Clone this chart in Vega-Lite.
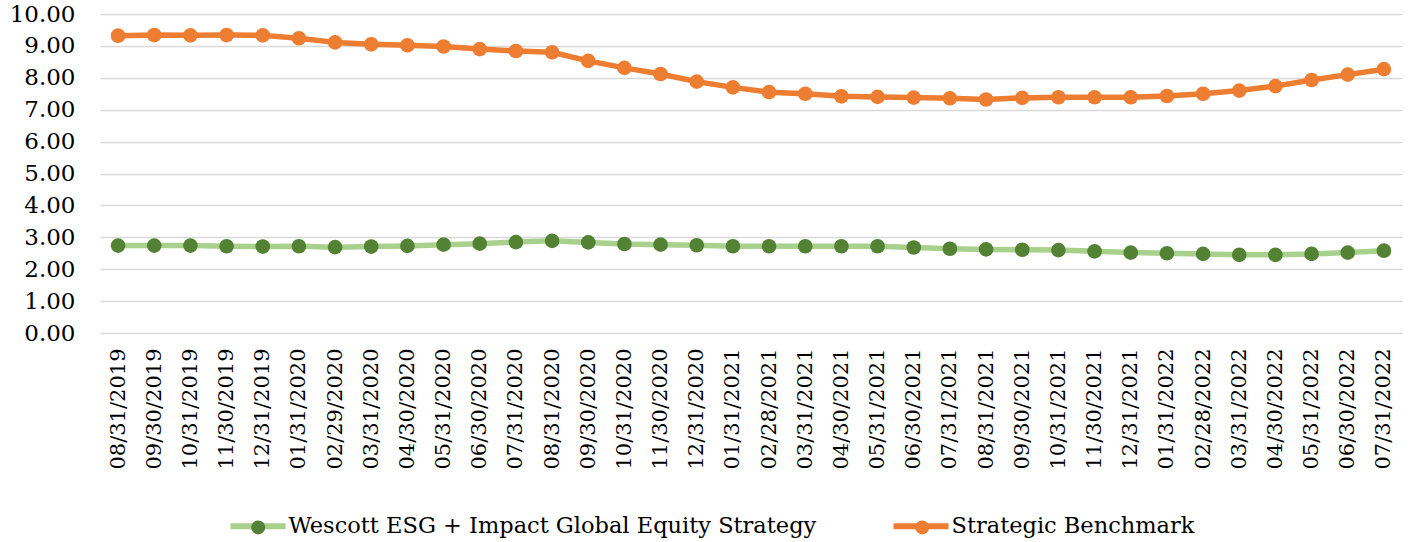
{
  "$schema": "https://vega.github.io/schema/vega-lite/v6.json",
  "width": 1302,
  "height": 319,
  "autosize": "none",
  "padding": {"left": 100, "top": 14, "right": 9, "bottom": 209},
  "background": "#ffffff",
  "config": {"view": {"stroke": null}, "font": "DejaVu Serif"},
  "data": {
    "values": [
      {"date": "08/31/2019", "series": "Wescott ESG + Impact Global Equity Strategy", "value": 2.74},
      {"date": "09/30/2019", "series": "Wescott ESG + Impact Global Equity Strategy", "value": 2.74},
      {"date": "10/31/2019", "series": "Wescott ESG + Impact Global Equity Strategy", "value": 2.74},
      {"date": "11/30/2019", "series": "Wescott ESG + Impact Global Equity Strategy", "value": 2.72},
      {"date": "12/31/2019", "series": "Wescott ESG + Impact Global Equity Strategy", "value": 2.71},
      {"date": "01/31/2020", "series": "Wescott ESG + Impact Global Equity Strategy", "value": 2.72},
      {"date": "02/29/2020", "series": "Wescott ESG + Impact Global Equity Strategy", "value": 2.69},
      {"date": "03/31/2020", "series": "Wescott ESG + Impact Global Equity Strategy", "value": 2.71},
      {"date": "04/30/2020", "series": "Wescott ESG + Impact Global Equity Strategy", "value": 2.73},
      {"date": "05/31/2020", "series": "Wescott ESG + Impact Global Equity Strategy", "value": 2.77},
      {"date": "06/30/2020", "series": "Wescott ESG + Impact Global Equity Strategy", "value": 2.80},
      {"date": "07/31/2020", "series": "Wescott ESG + Impact Global Equity Strategy", "value": 2.85},
      {"date": "08/31/2020", "series": "Wescott ESG + Impact Global Equity Strategy", "value": 2.89},
      {"date": "09/30/2020", "series": "Wescott ESG + Impact Global Equity Strategy", "value": 2.84},
      {"date": "10/31/2020", "series": "Wescott ESG + Impact Global Equity Strategy", "value": 2.79},
      {"date": "11/30/2020", "series": "Wescott ESG + Impact Global Equity Strategy", "value": 2.77},
      {"date": "12/31/2020", "series": "Wescott ESG + Impact Global Equity Strategy", "value": 2.75},
      {"date": "01/31/2021", "series": "Wescott ESG + Impact Global Equity Strategy", "value": 2.72},
      {"date": "02/28/2021", "series": "Wescott ESG + Impact Global Equity Strategy", "value": 2.72},
      {"date": "03/31/2021", "series": "Wescott ESG + Impact Global Equity Strategy", "value": 2.72},
      {"date": "04/30/2021", "series": "Wescott ESG + Impact Global Equity Strategy", "value": 2.72},
      {"date": "05/31/2021", "series": "Wescott ESG + Impact Global Equity Strategy", "value": 2.72},
      {"date": "06/30/2021", "series": "Wescott ESG + Impact Global Equity Strategy", "value": 2.68},
      {"date": "07/31/2021", "series": "Wescott ESG + Impact Global Equity Strategy", "value": 2.64},
      {"date": "08/31/2021", "series": "Wescott ESG + Impact Global Equity Strategy", "value": 2.62},
      {"date": "09/30/2021", "series": "Wescott ESG + Impact Global Equity Strategy", "value": 2.61},
      {"date": "10/31/2021", "series": "Wescott ESG + Impact Global Equity Strategy", "value": 2.60},
      {"date": "11/30/2021", "series": "Wescott ESG + Impact Global Equity Strategy", "value": 2.56},
      {"date": "12/31/2021", "series": "Wescott ESG + Impact Global Equity Strategy", "value": 2.52},
      {"date": "01/31/2022", "series": "Wescott ESG + Impact Global Equity Strategy", "value": 2.50},
      {"date": "02/28/2022", "series": "Wescott ESG + Impact Global Equity Strategy", "value": 2.48},
      {"date": "03/31/2022", "series": "Wescott ESG + Impact Global Equity Strategy", "value": 2.45},
      {"date": "04/30/2022", "series": "Wescott ESG + Impact Global Equity Strategy", "value": 2.45},
      {"date": "05/31/2022", "series": "Wescott ESG + Impact Global Equity Strategy", "value": 2.48},
      {"date": "06/30/2022", "series": "Wescott ESG + Impact Global Equity Strategy", "value": 2.52},
      {"date": "07/31/2022", "series": "Wescott ESG + Impact Global Equity Strategy", "value": 2.58},
      {"date": "08/31/2019", "series": "Strategic Benchmark", "value": 9.32},
      {"date": "09/30/2019", "series": "Strategic Benchmark", "value": 9.34},
      {"date": "10/31/2019", "series": "Strategic Benchmark", "value": 9.33},
      {"date": "11/30/2019", "series": "Strategic Benchmark", "value": 9.34},
      {"date": "12/31/2019", "series": "Strategic Benchmark", "value": 9.33},
      {"date": "01/31/2020", "series": "Strategic Benchmark", "value": 9.24},
      {"date": "02/29/2020", "series": "Strategic Benchmark", "value": 9.11},
      {"date": "03/31/2020", "series": "Strategic Benchmark", "value": 9.05},
      {"date": "04/30/2020", "series": "Strategic Benchmark", "value": 9.02},
      {"date": "05/31/2020", "series": "Strategic Benchmark", "value": 8.98},
      {"date": "06/30/2020", "series": "Strategic Benchmark", "value": 8.90},
      {"date": "07/31/2020", "series": "Strategic Benchmark", "value": 8.84},
      {"date": "08/31/2020", "series": "Strategic Benchmark", "value": 8.80},
      {"date": "09/30/2020", "series": "Strategic Benchmark", "value": 8.53},
      {"date": "10/31/2020", "series": "Strategic Benchmark", "value": 8.31},
      {"date": "11/30/2020", "series": "Strategic Benchmark", "value": 8.12},
      {"date": "12/31/2020", "series": "Strategic Benchmark", "value": 7.88},
      {"date": "01/31/2021", "series": "Strategic Benchmark", "value": 7.70},
      {"date": "02/28/2021", "series": "Strategic Benchmark", "value": 7.55},
      {"date": "03/31/2021", "series": "Strategic Benchmark", "value": 7.50},
      {"date": "04/30/2021", "series": "Strategic Benchmark", "value": 7.42},
      {"date": "05/31/2021", "series": "Strategic Benchmark", "value": 7.40},
      {"date": "06/30/2021", "series": "Strategic Benchmark", "value": 7.38},
      {"date": "07/31/2021", "series": "Strategic Benchmark", "value": 7.36},
      {"date": "08/31/2021", "series": "Strategic Benchmark", "value": 7.32},
      {"date": "09/30/2021", "series": "Strategic Benchmark", "value": 7.37},
      {"date": "10/31/2021", "series": "Strategic Benchmark", "value": 7.39},
      {"date": "11/30/2021", "series": "Strategic Benchmark", "value": 7.39},
      {"date": "12/31/2021", "series": "Strategic Benchmark", "value": 7.39},
      {"date": "01/31/2022", "series": "Strategic Benchmark", "value": 7.43},
      {"date": "02/28/2022", "series": "Strategic Benchmark", "value": 7.50},
      {"date": "03/31/2022", "series": "Strategic Benchmark", "value": 7.60},
      {"date": "04/30/2022", "series": "Strategic Benchmark", "value": 7.74},
      {"date": "05/31/2022", "series": "Strategic Benchmark", "value": 7.93},
      {"date": "06/30/2022", "series": "Strategic Benchmark", "value": 8.10},
      {"date": "07/31/2022", "series": "Strategic Benchmark", "value": 8.27}
    ]
  },
  "encoding": {
    "x": {
      "field": "date",
      "type": "ordinal",
      "sort": null,
      "scale": {"padding": 0.5},
      "axis": {
        "title": null,
        "labelAngle": -90,
        "labelFont": "DejaVu Serif",
        "labelFontSize": 21,
        "labelColor": "#000000",
        "labelPadding": 15,
        "labelOverlap": false,
        "domain": false,
        "ticks": false,
        "grid": false
      }
    },
    "y": {
      "field": "value",
      "type": "quantitative",
      "scale": {"domain": [0, 10], "nice": false},
      "axis": {
        "title": null,
        "values": [0, 1, 2, 3, 4, 5, 6, 7, 8, 9, 10],
        "format": ".2f",
        "labelFont": "DejaVu Serif",
        "labelFontSize": 23,
        "labelColor": "#000000",
        "labelPadding": 25,
        "domain": false,
        "ticks": false,
        "grid": true,
        "gridColor": "#d9d9d9",
        "gridWidth": 1.5
      }
    }
  },
  "layer": [
    {
      "mark": {"type": "line", "strokeWidth": 5.5, "strokeJoin": "round", "strokeCap": "round"},
      "encoding": {
        "stroke": {
          "field": "series",
          "type": "nominal",
          "scale": {
            "domain": ["Wescott ESG + Impact Global Equity Strategy", "Strategic Benchmark"],
            "range": ["#a9d18e", "#ed7d31"]
          },
          "legend": {
            "orient": "none",
            "legendX": 127.5,
            "legendY": 481.5,
            "direction": "horizontal",
            "title": null,
            "symbolType": "stroke",
            "symbolSize": 3025,
            "symbolStrokeWidth": 6,
            "labelFont": "DejaVu Serif",
            "labelFontSize": 22.5,
            "labelColor": "#000000",
            "labelLimit": 1000,
            "labelOffset": 0,
            "columnPadding": 65,
            "padding": 0
          }
        }
      }
    },
    {
      "mark": {"type": "point", "filled": true, "size": 215, "opacity": 1},
      "encoding": {
        "fill": {
          "field": "series",
          "type": "nominal",
          "scale": {
            "domain": ["Strategic Benchmark", "Wescott ESG + Impact Global Equity Strategy"],
            "range": ["#ed7d31", "#548235"]
          },
          "legend": {
            "orient": "none",
            "legendX": 147,
            "legendY": 502,
            "direction": "horizontal",
            "title": null,
            "values": ["Wescott ESG + Impact Global Equity Strategy", "Strategic Benchmark"],
            "labelExpr": "''",
            "symbolType": "circle",
            "symbolSize": 196,
            "symbolStrokeWidth": 0,
            "symbolOpacity": 1,
            "labelFontSize": 22.5,
            "labelOffset": 0,
            "columnPadding": 641,
            "padding": 0
          }
        }
      }
    }
  ]
}
